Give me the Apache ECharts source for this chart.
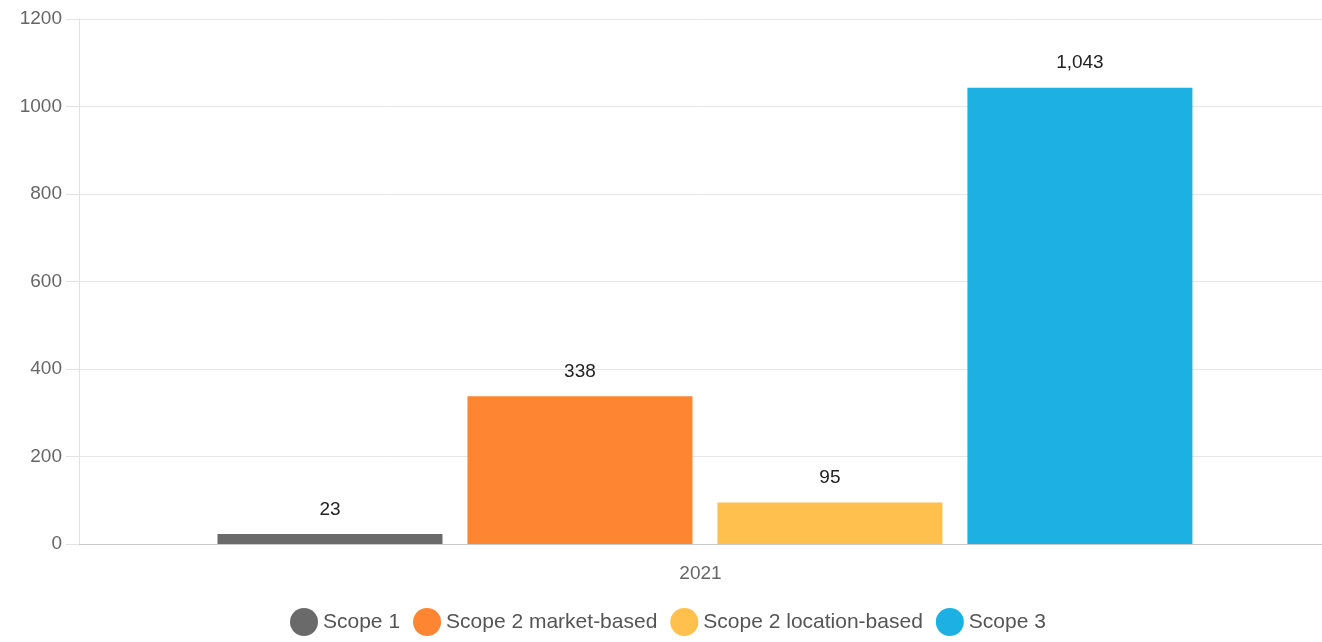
<!DOCTYPE html>
<html>
<head>
<meta charset="utf-8">
<script src="https://cdn.jsdelivr.net/npm/echarts@6/dist/echarts.min.js"></script>
<style>html,body{margin:0;padding:0;background:#fff}#c{width:1322px;height:642px}</style>
</head>
<body>
<div id="c"></div>
<script>
var categories = ['2021'];
var seriesNames = ['Scope 1', 'Scope 2 market-based', 'Scope 2 location-based', 'Scope 3'];
var scope1 = [23];
var scope2Market = [338];
var scope2Location = [95];
var scope3 = [1043];
var yTicks = [0, 200, 400, 600, 800, 1000, 1200];
var colors = ['#6a6a6a', '#fe8532', '#ffc04e', '#1cb1e2'];

var font = 'Liberation Sans, Arial, Helvetica, sans-serif';
var chart = echarts.init(document.getElementById('c'), null, {renderer: 'canvas'});
var values = [scope1, scope2Market, scope2Location, scope3];
var series = [{
  // empty spacer column: nudges the bar group to the right like the reference
  name: '_spacer',
  type: 'bar',
  data: [null],
  barWidth: 8,
  barGap: '11.1%',
  silent: true,
  label: {show: false}
}].concat(seriesNames.map(function (n, i) {
  return {
    name: n,
    type: 'bar',
    data: values[i],
    barWidth: 225,
    barGap: '11.1%',
    itemStyle: {color: colors[i]},
    label: {
      show: true,
      position: 'top',
      distance: 15,
      color: '#222',
      fontSize: 19,
      fontFamily: font,
      formatter: function (p) { return p.value.toLocaleString('en-US'); }
    }
  };
}));
chart.setOption({
  animation: false,
  color: colors,
  textStyle: {fontFamily: font},
  grid: {left: 79, top: 19, right: 0, bottom: 98, containLabel: false},
  legend: {
    bottom: 1,
    left: 285,
    icon: 'circle',
    itemWidth: 28,
    itemHeight: 28,
    itemGap: 13,
    textStyle: {color: '#555', fontSize: 21, fontFamily: font},
    data: seriesNames
  },
  xAxis: {
    type: 'category',
    data: categories,
    axisLine: {lineStyle: {color: '#c8c8c8'}},
    axisTick: {show: false},
    axisLabel: {color: '#666', fontSize: 19, margin: 20, fontFamily: font}
  },
  yAxis: {
    type: 'value',
    min: yTicks[0],
    max: yTicks[yTicks.length - 1],
    interval: yTicks[1] - yTicks[0],
    axisLine: {show: true, lineStyle: {color: '#e2e2e2'}},
    axisTick: {show: true, length: 13, lineStyle: {color: '#e2e2e2'}},
    axisLabel: {color: '#666', fontSize: 19, margin: 17, fontFamily: font,
      formatter: function (v) { return String(v); }},
    splitLine: {lineStyle: {color: '#e6e6e6'}}
  },
  series: series
});
</script>
</body>
</html>
